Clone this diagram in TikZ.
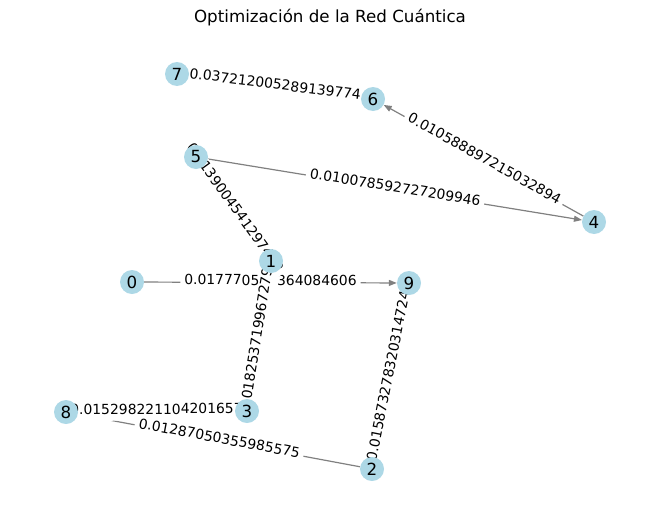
\documentclass[tikz,border=0pt]{standalone}
\usepackage{fontspec}
\setmainfont{DejaVu Sans}
\usetikzlibrary{arrows.meta}
\pgfdeclarelayer{edgelayer}
\pgfdeclarelayer{labellayer}
\pgfsetlayers{edgelayer,labellayer,main}
\definecolor{nodeblue}{HTML}{ADD8E6}
\definecolor{edgegray}{HTML}{808080}
\begin{document}
\begin{tikzpicture}[x=1pt,y=-1pt,
  vert/.style={circle,fill=nodeblue,minimum size=24pt,inner sep=0pt,font=\fontsize{16.7}{18}\selectfont},
  edge/.style={draw=edgegray,line width=1.2pt},
  arr/.style={edge,-{Triangle[length=8pt,width=6pt]}},
  elabel/.style={sloped,fill=white,rounded corners=4pt,inner sep=4pt,text height=0.76em,text depth=0.24em,font=\fontsize{13.9}{15}\selectfont}
]
\useasboundingbox (0,0) rectangle (660,522);
\node[font=\fontsize{16.7}{18}\selectfont] (title) at (330,18) {Optimización de la Red Cuántica};

\node[vert] (n7) at (177,74) {7};
\node[vert] (n6) at (373,99) {6};
\node[vert] (n5) at (196,157) {5};
\node[vert] (n4) at (594,222) {4};
\node[vert] (n1) at (271,261) {1};
\node[vert] (n0) at (132,282) {0};
\node[vert] (n9) at (409,283) {9};
\node[vert] (n8) at (66,412) {8};
\node[vert] (n3) at (247,411) {3};
\node[vert] (n2) at (372,469) {2};

\begin{pgfonlayer}{edgelayer}
\draw[edge] (n7) -- (n6);
\draw[arr] (n4) -- (n6);
\draw[arr] (n5) -- (n4);
\draw[arr] (n0) -- (n9);
\draw[edge] (n5) -- (n1);
\draw[edge] (n1) -- (n3);
\draw[edge] (n8) -- (n3);
\draw[edge] (n8) -- (n2);
\draw[edge] (n2) -- (n9);
\end{pgfonlayer}

\begin{pgfonlayer}{labellayer}
\path (n7) -- node[elabel] (l76) {0.037212005289139774} (n6);
\path (n4) -- node[elabel] (l46) {0.010588897215032894} (n6);
\path (n5) -- node[elabel] (l54) {0.010078592727209946} (n4);
\path (n0) -- node[elabel] (l09) {0.017770529364084606} (n9);
\path (n5) -- node[elabel] (l51) {0.0139004541297462} (n1);
\path (n3) -- node[elabel] (l13) {0.0182537199672797} (n1);
\path (n8) -- node[elabel] (l83) {0.015298221104201657} (n3);
\path (n8) -- node[elabel] (l82) {0.01287050355985575} (n2);
\path (n2) -- node[elabel] (l29) {0.015873278320314724} (n9);
\end{pgfonlayer}
\end{tikzpicture}
\end{document}
